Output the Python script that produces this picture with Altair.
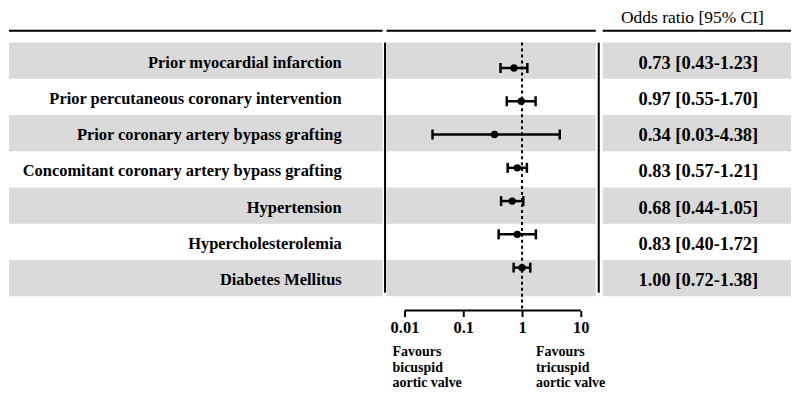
import altair as alt
import pandas as pd

# ---------------- data ----------------
labels = [
    "Prior myocardial infarction",
    "Prior percutaneous coronary intervention",
    "Prior coronary artery bypass grafting",
    "Concomitant coronary artery bypass grafting",
    "Hypertension",
    "Hypercholesterolemia",
    "Diabetes Mellitus",
]
odds = [0.73, 0.97, 0.34, 0.83, 0.68, 0.83, 1.00]
ci_low = [0.43, 0.55, 0.03, 0.57, 0.44, 0.40, 0.72]
ci_high = [1.23, 1.70, 4.38, 1.21, 1.05, 1.72, 1.38]
shaded_rows = [1, 3, 5, 7]
tick_values = [0.01, 0.1, 1, 10]
tick_labels = ["0.01", "0.1", "1", "10"]
reference_value = [1]
header = "Odds ratio [95% CI]"
favours_left = "Favours\nbicuspid\naortic valve"
favours_right = "Favours\ntricuspid\naortic valve"

rows = list(range(1, len(labels) + 1))
df = pd.DataFrame({"row": rows, "label": labels, "or": odds, "lo": ci_low, "hi": ci_high})
df["ci_text"] = [f"{o:.2f} [{l:.2f}-{h:.2f}]" for o, l, h in zip(odds, ci_low, ci_high)]
bands = pd.DataFrame({"y": [r - 0.5 for r in shaded_rows], "y2": [r + 0.5 for r in shaded_rows]})
one = pd.DataFrame({"k": [0]})
ref_df = pd.DataFrame({"x": reference_value})
axis_df = pd.DataFrame({"x": [tick_values[0]], "x2": [tick_values[-1]]})
fav_l = pd.DataFrame({"x": [tick_values[0]], "t": [favours_left]})
fav_r = pd.DataFrame({"x": reference_value, "t": [favours_right]})

# ---------------- layout / style ----------------
SERIF = "Liberation Serif"
GREY = "#dadada"
PLOT_H = 303
ROW_PX, FIRST = 36.4, 52.0
Y0 = 1 - FIRST / ROW_PX
band_y = alt.Scale(domain=[Y0, Y0 + PLOT_H / ROW_PX], reverse=True, nice=False, zero=False)
DOT_PX, DOT_FIRST = 33.4, 59.5
Z0 = 1 - DOT_FIRST / DOT_PX
dot_y = alt.Scale(domain=[Z0, Z0 + PLOT_H / DOT_PX], reverse=True, nice=False, zero=False)

LEFT_W, MID_W, MID_BAND_W, RIGHT_W = 375, 213, 210, 189
x_scale = alt.Scale(type="log", domain=[0.004953, 20.19], nice=False, zero=False)
label_expr = " : ".join(f"datum.value == {v} ? '{t}'" for v, t in zip(tick_values, tick_labels)) + " : ''"
AX = alt.Axis(values=tick_values, labelExpr=label_expr, domain=False, grid=False, ticks=True,
              tickSize=6, tickWidth=2, tickColor="black", labelFont=SERIF, labelFontWeight="bold",
              labelFontSize=16.5, labelColor="black", labelPadding=3, title=None,
              labelFlush=False, labelOverlap=False)


def bands_layer(w):
    return alt.Chart(bands).mark_rect(color=GREY).encode(
        y=alt.Y("y:Q", scale=band_y, axis=None), y2="y2:Q",
        x=alt.value(0), x2=alt.value(w))


def top_rule(w):
    return alt.Chart(one).mark_rule(color="black", strokeWidth=2).encode(
        x=alt.value(0), x2=alt.value(w), y=alt.value(22))


def sep(xpx):
    return alt.Chart(one).mark_rule(color="black", strokeWidth=2).encode(
        x=alt.value(xpx), y=alt.value(34), y2=alt.value(285))


def X(field):
    return alt.X(field, type="quantitative", scale=x_scale, axis=AX)


# left column
left = alt.layer(
    bands_layer(LEFT_W),
    top_rule(LEFT_W),
    alt.Chart(df).mark_text(font=SERIF, fontWeight="bold", fontSize=16.5, align="right",
                            baseline="middle", dy=2, color="black").encode(
        y=alt.Y("row:Q", scale=band_y, axis=None), x=alt.value(334), text="label:N"),
).properties(width=LEFT_W, height=PLOT_H)

# middle forest plot
mid = alt.layer(
    bands_layer(MID_BAND_W),
    top_rule(MID_BAND_W),
    sep(-1.5),
    sep(MID_W),
    alt.Chart(ref_df).mark_rule(color="black", strokeWidth=2, strokeDash=[3, 3]).encode(
        x=X("x"), y=alt.value(34), y2=alt.value(PLOT_H)),
    alt.Chart(axis_df).mark_rule(color="black", strokeWidth=2).encode(
        x=X("x"), x2="x2:Q", y=alt.value(PLOT_H)),
    alt.Chart(df).mark_rule(color="black", strokeWidth=2.5).encode(
        x=X("lo"), x2="hi:Q", y=alt.Y("row:Q", scale=dot_y, axis=None)),
    alt.Chart(df).mark_tick(color="black", orient="vertical", size=10, thickness=2.5, opacity=1).encode(
        x=X("lo"), y=alt.Y("row:Q", scale=dot_y, axis=None)),
    alt.Chart(df).mark_tick(color="black", orient="vertical", size=10, thickness=2.5, opacity=1).encode(
        x=X("hi"), y=alt.Y("row:Q", scale=dot_y, axis=None)),
    alt.Chart(df).mark_circle(color="black", size=55, opacity=1).encode(
        x=X("or"), y=alt.Y("row:Q", scale=dot_y, axis=None)),
    alt.Chart(fav_l).mark_text(font=SERIF, fontWeight="bold", fontSize=14, align="left",
                               baseline="top", lineBreak="\n", lineHeight=15.3, dx=-12, color="black").encode(
        x=X("x"), y=alt.value(338), text="t:N"),
    alt.Chart(fav_r).mark_text(font=SERIF, fontWeight="bold", fontSize=14, align="left",
                               baseline="top", lineBreak="\n", lineHeight=15.3, dx=14, color="black").encode(
        x=X("x"), y=alt.value(338), text="t:N"),
).resolve_scale(y="independent").properties(width=MID_W, height=PLOT_H)

# right column
right = alt.layer(
    bands_layer(RIGHT_W),
    top_rule(RIGHT_W),
    alt.Chart(one).mark_text(font=SERIF, fontSize=17.5, align="center", baseline="top",
                             color="black", text=header).encode(
        x=alt.value(90), y=alt.value(0)),
    alt.Chart(df).mark_text(font=SERIF, fontWeight="bold", fontSize=18.5, align="center",
                            baseline="middle", dy=2, color="black").encode(
        y=alt.Y("row:Q", scale=band_y, axis=None), x=alt.value(96), text="ci_text:N"),
).properties(width=RIGHT_W, height=PLOT_H)

chart = alt.hconcat(left, mid, right, spacing=4, bounds="flush", padding=0).configure_view(stroke=None)

chart.save("out.html", embed_options={"renderer": "svg", "actions": False})
